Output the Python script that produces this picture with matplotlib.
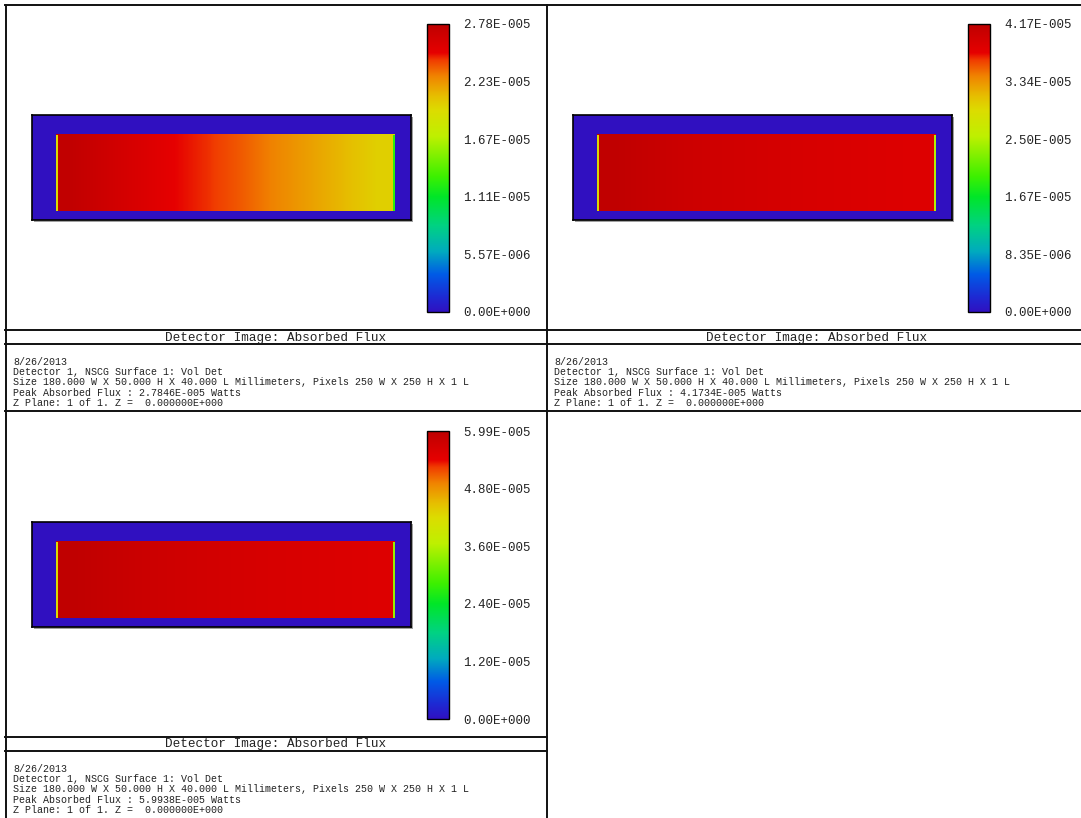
import numpy as np
import matplotlib
matplotlib.use("Agg")
import matplotlib.pyplot as plt
from matplotlib.cm import ScalarMappable
from matplotlib.colors import LinearSegmentedColormap, Normalize
from matplotlib.lines import Line2D
from matplotlib.patches import Rectangle

plt.rcParams["font.family"] = ["Liberation Mono", "DejaVu Sans Mono"]

FIG_W, FIG_H = 1081, 818

# =============================================================================
# Data
# =============================================================================
DATE = "8/26/2013"
PEAK_FLUX = [2.7846e-5, 4.1734e-5, 5.9938e-5]          # Watts, one per detector run
DET_SIZE = (180.0, 50.0, 40.0)                          # W, H, L in mm
DET_PIXELS = (250, 250, 1)                              # W, H, L
DET_EXTENT = (-90.0, 90.0, -25.0, 25.0)                 # mm
LIT_EXTENT = (-78.6, 82.4, -20.9, 15.5)                 # absorbing region, mm
PIXEL_W = DET_SIZE[0] / DET_PIXELS[0]                   # mm per detector column

# absorbed flux across the lit region, left -> right (Watts)
PROFILE_1 = [2.757e-5, 2.673e-5, 2.590e-5, 2.506e-5, 2.450e-5,
             2.367e-5, 2.269e-5, 2.186e-5, 2.102e-5, 2.005e-5]
PROFILE_2 = [4.150e-5, 4.090e-5, 4.030e-5, 3.990e-5, 3.960e-5,
             3.930e-5, 3.900e-5, 3.880e-5, 3.860e-5, 3.840e-5]
PROFILE_3 = [5.960e-5, 5.880e-5, 5.800e-5, 5.740e-5, 5.690e-5,
             5.650e-5, 5.610e-5, 5.580e-5, 5.550e-5, 5.520e-5]
PROFILES = [PROFILE_1, PROFILE_2, PROFILE_3]

# partially filled border pixels of the lit region (Watts)
EDGE_LEFT = [1.95e-5, 2.95e-5, 4.20e-5]
EDGE_RIGHT = [1.25e-5, 2.50e-5, 3.40e-5]
EDGE_TOPBOT = [1.95e-5, 2.95e-5, 4.20e-5]

TITLE = "Detector Image: Absorbed Flux"

# Zemax-like false colour map
cmap = LinearSegmentedColormap.from_list("falsecolor", [
    (0.00, "#3010c0"), (0.05, "#1e28d2"), (0.13, "#005ae6"),
    (0.21, "#00aabe"), (0.30, "#00d282"), (0.40, "#00e628"),
    (0.47, "#3cf000"), (0.61, "#bef000"), (0.70, "#dcdc00"),
    (0.75, "#e6be00"), (0.82, "#f08200"), (0.875, "#f03c00"),
    (0.90, "#e60000"), (1.00, "#be0000"),
], N=2048)


def fmt_e(v):
    """Zemax style 3-digit exponent: 2.78E-005."""
    if v == 0:
        return "0.00E+000"
    e = int(np.floor(np.log10(abs(v))))
    m = v / 10 ** e
    if round(m, 2) >= 10:
        m /= 10
        e += 1
    return f"{m:.2f}E{e:+04d}"


def fig_rect(x, y, w, h):
    """pixel box (top-left origin) -> figure fraction rect."""
    return [x / FIG_W, 1 - (y + h) / FIG_H, w / FIG_W, h / FIG_H]


def line(fig, x0, y0, x1, y1):
    fig.add_artist(Line2D([x0 / FIG_W, x1 / FIG_W], [1 - y0 / FIG_H, 1 - y1 / FIG_H],
                          transform=fig.transFigure, color="#111111", linewidth=1.4))


def draw_panel(fig, idx, ox, oy):
    peak = PEAK_FLUX[idx]
    norm = Normalize(vmin=0, vmax=peak)

    # shadow under the detector outline
    fig.add_artist(Rectangle(fig_rect(ox + 29, oy + 112, 379, 105)[:2],
                             379 / FIG_W, 105 / FIG_H, transform=fig.transFigure,
                             facecolor="#a0a0a0", edgecolor="none", zorder=-1))

    ax = fig.add_axes(fig_rect(ox + 27, oy + 110, 379, 105))
    ax.imshow([[0.0]], extent=DET_EXTENT, cmap=cmap, norm=norm, aspect="auto")
    ax.imshow([PROFILES[idx]], extent=LIT_EXTENT, cmap=cmap, norm=norm,
              aspect="auto", interpolation="bilinear", interpolation_stage="data")
    x0, x1, y0, y1 = LIT_EXTENT
    ax.add_patch(Rectangle((x0, y0), PIXEL_W, y1 - y0, facecolor=cmap(norm(EDGE_LEFT[idx])),
                           edgecolor="none"))
    ax.add_patch(Rectangle((x1 - PIXEL_W, y0), PIXEL_W, y1 - y0,
                           facecolor=cmap(norm(EDGE_RIGHT[idx])), edgecolor="none"))
    for yy in (y0, y1 - 0.22):
        ax.add_patch(Rectangle((x0, yy), x1 - x0, 0.22, facecolor=cmap(norm(EDGE_TOPBOT[idx])),
                               edgecolor="none"))
    ax.set_xlim(DET_EXTENT[0], DET_EXTENT[1])
    ax.set_ylim(DET_EXTENT[2], DET_EXTENT[3])
    ax.set_xticks([]); ax.set_yticks([])
    for s in ax.spines.values():
        s.set_linewidth(1.2); s.set_color("black")

    # colour bar
    cax = fig.add_axes(fig_rect(ox + 422, oy + 19, 22, 288))
    ticks = np.linspace(0, peak, 6)
    cb = fig.colorbar(ScalarMappable(norm=norm, cmap=cmap), cax=cax, ticks=ticks)
    cb.ax.set_yticklabels([fmt_e(t) for t in ticks])
    cb.ax.tick_params(length=0, pad=10, labelsize=9, labelcolor="#222222")
    cb.outline.set_linewidth(1.0)

    # title strip + info block
    fig.text((ox + 271) / FIG_W, 1 - (oy + 332.5) / FIG_H, TITLE, ha="center", va="center",
             fontsize=9.1, color="#222222")
    info = [
        DATE,
        "Detector 1, NSCG Surface 1: Vol Det",
        f"Size {DET_SIZE[0]:.3f} W X {DET_SIZE[1]:.3f} H X {DET_SIZE[2]:.3f} L Millimeters, "
        f"Pixels {DET_PIXELS[0]} W X {DET_PIXELS[1]} H X {DET_PIXELS[2]} L",
        f"Peak Absorbed Flux : {peak:.4E} Watts".replace("E-0", "E-00"),
        "Z Plane: 1 of 1. Z =  0.000000E+000",
    ]
    for k, txt in enumerate(info):
        fig.text((ox + 8) / FIG_W, 1 - (oy + 357 + 10.2 * k) / FIG_H, txt,
                 ha="left", va="center", fontsize=7.17, color="#222222")


fig = plt.figure(figsize=(FIG_W / 100, FIG_H / 100), dpi=100)

# frame lines
line(fig, 5, 5, FIG_W, 5)
line(fig, 5.5, 5, 5.5, FIG_H)
line(fig, 547, 5, 547, FIG_H)
for y in (330, 344, 411):
    line(fig, 5, y, FIG_W, y)
for y in (737, 751):
    line(fig, 5, y, 547, y)

draw_panel(fig, 0, 5, 5)
draw_panel(fig, 1, 546, 5)
draw_panel(fig, 2, 5, 412)

fig.savefig("out.png", dpi=100)
